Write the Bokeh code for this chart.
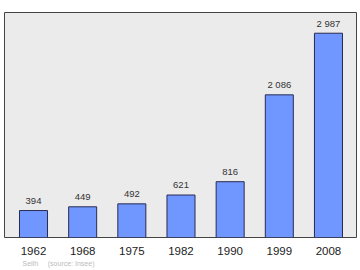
from bokeh.plotting import figure
from bokeh.models import ColumnDataSource, FixedTicker, Title, Range1d
from bokeh.core.properties import value
from bokeh.embed import file_html
from bokeh.resources import INLINE

years = ["1962", "1968", "1975", "1982", "1990", "1999", "2008"]
population = [394, 449, 492, 621, 816, 2086, 2987]
labels = [f"{v:,}".replace(",", "\u00a0") for v in population]
xs = list(range(len(years)))

src = ColumnDataSource(dict(x=xs, top=population, lab=labels))

p = figure(width=360, height=270, output_backend="svg", toolbar_location=None,
           x_range=Range1d(-0.59, 6.57), y_range=Range1d(0, 3290),
           min_border_left=4, min_border_right=4, min_border_top=12, min_border_bottom=33)
p.background_fill_color = "#ebebeb"
p.border_fill_color = "white"
p.outline_line_color = "#444444"
p.outline_line_width = 1
p.grid.visible = False
p.yaxis.visible = False

p.vbar(x="x", top="top", bottom=0, width=0.57, source=src,
       fill_color="#7097ff", line_color="#2a2a50", line_width=1)
p.text(x="x", y="top", text="lab", source=src, text_align="center",
       text_baseline="middle", y_offset=-10, text_font=value("Liberation Sans"),
       text_font_size="9.5px", text_color="#333333")

ax = p.xaxis[0]
ax.ticker = FixedTicker(ticks=xs)
ax.major_label_overrides = {i: y for i, y in zip(xs, years)}
ax.axis_line_color = None
ax.major_tick_line_color = None
ax.minor_tick_line_color = None
ax.major_tick_in = 0
ax.major_tick_out = 0
ax.major_label_text_font = "Liberation Sans"
ax.major_label_text_font_size = "11.5px"
ax.major_label_text_color = "#222222"
ax.major_label_standoff = 9

p.add_layout(Title(text="Seilh\u00a0\u00a0\u00a0\u00a0\u00a0(source: Insee)", align="left",
                   offset=18, standoff=0, text_font="Liberation Sans",
                   text_font_size="7px", text_font_style="normal",
                   text_color="#bbbbbb"), "below")

open("out.html", "w").write(file_html(p, INLINE))
